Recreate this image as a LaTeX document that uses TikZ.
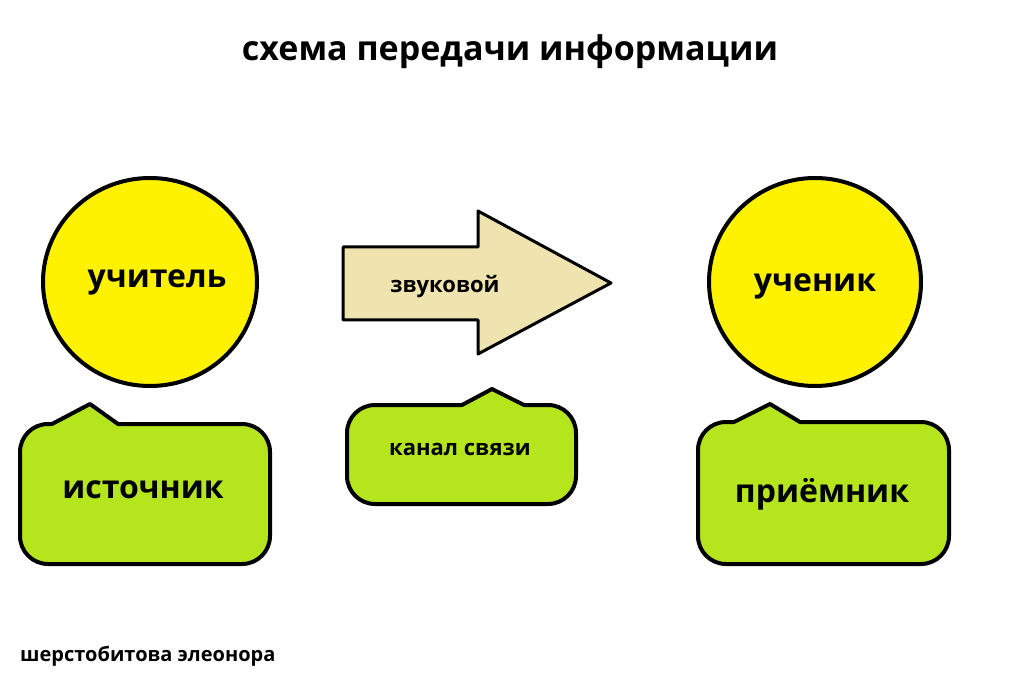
\documentclass[tikz,border=0pt]{standalone}
\usepackage{fontspec}
\setmainfont{Open Sans}
\definecolor{yel}{HTML}{FFF200}
\definecolor{lime}{HTML}{B5E61D}
\definecolor{beige}{HTML}{EFE4B0}
\tikzset{
  outl/.style={draw=black,line width=4pt,line join=round},
  lbl/.style={font=\bfseries,inner sep=0pt}
}
\newcommand{\mycallout}[8]{%
  \filldraw[outl,fill=lime] (#5,#2) -- (#6,#7) -- (#8,#2) [rounded corners=28pt] -- (#3,#2) -- (#3,#4) -- (#1,#4) -- (#1,#2) [sharp corners] -- (#5,#2) -- cycle;}
\begin{document}
\begin{tikzpicture}[x=1pt,y=-1pt]
\useasboundingbox (0,0) rectangle (1030,692);
\node[lbl,font=\fontsize{34}{40}\selectfont\bfseries] (title) at (510,52) {схема передачи информации};
% circles
\filldraw[outl,fill=yel] (150,282) ellipse (107 and 104);
\node[lbl,font=\fontsize{32}{38}\selectfont\bfseries] (teacher) at (157,282) {учитель};
\filldraw[outl,fill=yel] (815,282) ellipse (106 and 104);
\node[lbl,font=\fontsize{32}{38}\selectfont\bfseries] (pupil) at (815,286) {ученик};
% arrow
\filldraw[outl,line width=3pt,fill=beige] (343,247) -- (478,247) -- (478,211) -- (611,283) -- (478,354) -- (478,320) -- (343,320) -- cycle;
\node[lbl,font=\fontsize{22}{26}\selectfont\bfseries] (sound) at (445,287) {звуковой};
% callouts
\mycallout{20}{424}{270}{564}{52}{90}{404}{118}
\node[lbl,font=\fontsize{32}{38}\selectfont\bfseries] (source) at (143,490) {источник};
\mycallout{347}{405}{576}{504}{462}{492}{389}{524}
\node[lbl,font=\fontsize{22}{26}\selectfont\bfseries] (channel) at (460,449) {канал связи};
\mycallout{698}{422}{949}{564}{734}{770}{404}{800}
\node[lbl,font=\fontsize{32}{38}\selectfont\bfseries] (receiver) at (822,494) {приёмник};
\node[lbl,font=\fontsize{20}{24}\selectfont\bfseries,anchor=west] (author) at (20,656) {шерстобитова элеонора};
\end{tikzpicture}
\end{document}
